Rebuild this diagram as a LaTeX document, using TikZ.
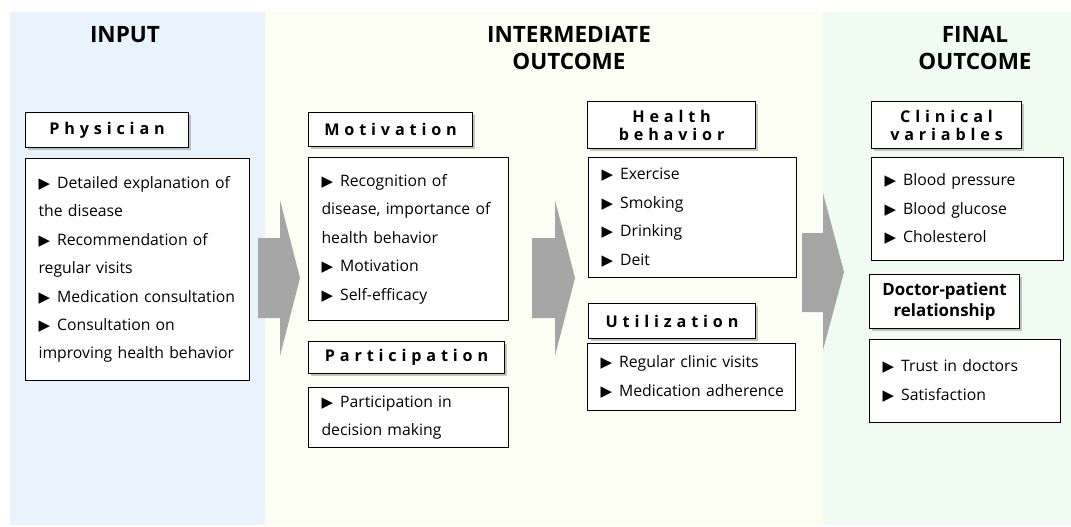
\documentclass[tikz,border=0pt]{standalone}
\usepackage{fontspec}
\setmainfont{Open Sans}
\newfontfamily\symfont{DejaVu Sans}[Scale=0.95]
\usetikzlibrary{shadows}
\definecolor{inputbg}{HTML}{E9F3FE}
\definecolor{midbg}{HTML}{FDFEF3}
\definecolor{finalbg}{HTML}{F0FBF2}
\definecolor{arrowgray}{HTML}{A6A6A6}
\newcommand{\tri}{{\symfont ▶}\hspace{0.45em}}
\tikzset{
  heading/.style={font=\fontsize{16}{19.2}\selectfont\bfseries, align=center},
  titlebox/.style={draw, fill=white, line width=0.8pt, anchor=north west, align=center, inner sep=0pt,
    font=\fontsize{11.5}{12.8}\selectfont\bfseries\addfontfeature{LetterSpace=30},
    drop shadow={shadow xshift=1.5pt, shadow yshift=-1.5pt, opacity=0.45}},
  plaintitle/.style={titlebox, font=\fontsize{12}{15}\selectfont\bfseries},
  listbox/.style={draw, fill=white, line width=0.8pt, anchor=north west, align=left,
    inner xsep=0.325cm, inner ysep=0pt, font=\fontsize{11.2}{20.2}\selectfont},
  blockarrow/.style={fill=arrowgray}
}

\begin{document}
\begin{tikzpicture}[x=0.025cm, y=-0.025cm]
\useasboundingbox (0,0) rectangle (1071,526);
% stage panels
\fill[inputbg] (10,12) rectangle (265,525);
\fill[midbg] (265,12) rectangle (823,525);
\fill[finalbg] (823,12) rectangle (1071,525);

\node at (125,35) [heading] (input) {INPUT};
\node at (569,48.5) [heading] (inter) {INTERMEDIATE\\OUTCOME};
\node at (975,48.5) [heading] (final) {FINAL\\OUTCOME};

% input
\node at (25,112) [titlebox, minimum width=4.075cm, minimum height=0.875cm] (phys) {Physician};
\node at (25,158) [listbox, minimum width=5.6cm, minimum height=5.55cm, text width=4.95cm] (physlist)
  {\tri Detailed explanation of\\ the disease\\ \tri Recommendation of\\ regular visits\\
   \tri Medication consultation\\ \tri Consultation on\\ improving health behavior};

% intermediate outcome
\node at (308,112) [titlebox, minimum width=4.1cm, minimum height=0.85cm] (motiv) {Motivation};
\node at (308,157) [listbox, minimum width=5cm, minimum height=4.075cm, text width=4.35cm] (motivlist)
  {\tri Recognition of\\ disease, importance of\\ health behavior\\ \tri Motivation\\ \tri Self-efficacy};
\node at (308,341) [titlebox, minimum width=4.9cm, minimum height=0.8cm] (partic) {Participation};
\node at (308,387) [listbox, minimum width=5cm, minimum height=1.5cm, text width=4.35cm] (particlist)
  {\tri Participation in\\ decision making};

\node at (587,101) [titlebox, minimum width=4.2cm, minimum height=1.175cm] (health) {Health\\behavior};
\node at (588,157) [listbox, minimum width=5.2cm, minimum height=3cm, text width=4.55cm] (healthlist)
  {\tri Exercise\\ \tri Smoking\\ \tri Drinking\\ \tri Deit};
\node at (588,303) [titlebox, minimum width=4.175cm, minimum height=0.875cm] (util) {Utilization};
\node at (587,343) [listbox, minimum width=5.2cm, minimum height=1.675cm, text width=4.55cm] (utillist)
  {\tri Regular clinic visits\\ \mbox{\tri Medication adherence}};

% final outcome
\node at (871,101) [titlebox, minimum width=3.75cm, minimum height=1.175cm] (clin) {Clinical\\variables};
\node at (871,157) [listbox, minimum width=4.8cm, minimum height=2.575cm, text width=4.15cm] (clinlist)
  {\tri Blood pressure\\ \tri Blood glucose\\ \tri Cholesterol};
\node at (869,274) [plaintitle, minimum width=3.75cm, minimum height=1.35cm] (docpat) {Doctor-patient\\relationship};
\node at (869,339) [listbox, minimum width=4.775cm, minimum height=2.075cm, text width=4.125cm] (docpatlist)
  {\tri Trust in doctors\\ \tri Satisfaction};

% block arrows
\fill[blockarrow] (258,238) -- (280,238) -- (280,200) -- (300,278) -- (280,356) -- (280,318) -- (258,318) -- cycle;
\fill[blockarrow] (532,238) -- (555,238) -- (555,200) -- (575,278) -- (555,356) -- (555,318) -- (532,318) -- cycle;
\fill[blockarrow] (802,233) -- (823,233) -- (823,193) -- (844,272) -- (823,350) -- (823,312) -- (802,312) -- cycle;
\end{tikzpicture}
\end{document}
